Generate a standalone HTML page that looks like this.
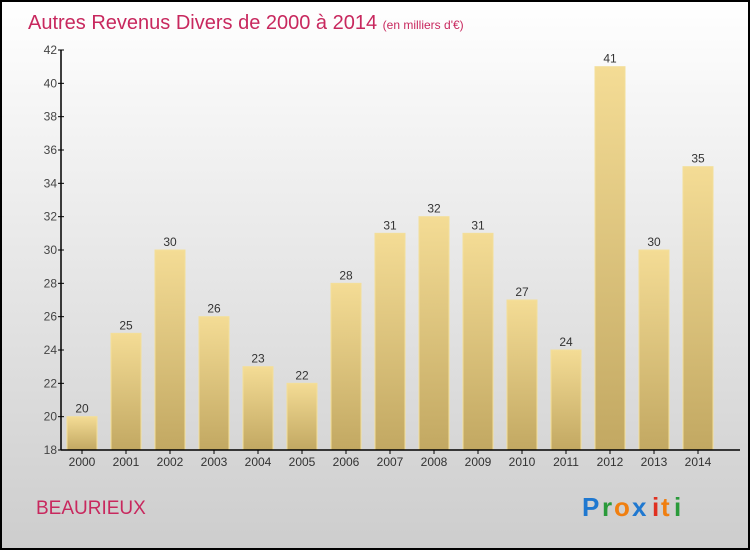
<!DOCTYPE html>
<html><head><meta charset="utf-8"><style>
html,body{margin:0;padding:0}
body{width:750px;height:550px;overflow:hidden}
svg{display:block}
text{font-family:"Liberation Sans",sans-serif}
</style></head><body>
<svg id="chart" width="750" height="550" xmlns="http://www.w3.org/2000/svg">
<defs>
<linearGradient id="bg" x1="0" y1="0" x2="0" y2="1"><stop offset="0" stop-color="#ffffff"/><stop offset="1" stop-color="#cdcdcd"/></linearGradient>
<linearGradient id="bar" x1="0" y1="0" x2="0" y2="1"><stop offset="0" stop-color="#f4dc95"/><stop offset="1" stop-color="#c2a862"/></linearGradient>
</defs>
<rect x="1" y="1" width="748" height="548" fill="url(#bg)" stroke="#000" stroke-width="2"/>
<text x="28" y="29" font-size="20" fill="#c8285e">Autres Revenus Divers de 2000 à 2014 <tspan font-size="12">(en milliers d'€)</tspan></text>
<g id="yaxis"></g>
<g id="bars"></g>
<g id="xaxis"></g>
<text x="36" y="514" font-size="19" fill="#c8285e">BEAURIEUX</text>
<g font-size="26" font-weight="bold">
<text x="582" y="516" fill="#1f78d0">P</text><text x="602" y="516" fill="#2a9a3a">r</text><text x="614" y="516" fill="#f07f10">o</text><text x="632" y="516" fill="#1f78d0">x</text><text x="652" y="516" fill="#e03020">i</text><text x="661" y="516" fill="#f07f10">t</text><text x="674" y="516" fill="#2a9a3a">i</text>
</g>
</svg>
<script>
const categories=["2000","2001","2002","2003","2004","2005","2006","2007","2008","2009","2010","2011","2012","2013","2014"];
const values=[20,25,30,26,23,22,28,31,32,31,27,24,41,30,35];
const yTicks=[18,20,22,24,26,28,30,32,34,36,38,40,42];
const NS="http://www.w3.org/2000/svg";
const y0=450,y1=50,vmin=18,vmax=42,xStart=82,step=44,bw=30,axX=61;
const yS=v=>y0-(v-vmin)/(vmax-vmin)*(y0-y1);
const xS=i=>xStart+i*step;
function mk(t,a,p){const e=document.createElementNS(NS,t);for(const k in a)e.setAttribute(k,a[k]);p.appendChild(e);return e;}
const ya=document.getElementById('yaxis'),bg=document.getElementById('bars'),xa=document.getElementById('xaxis');
mk('line',{x1:axX,y1:y1,x2:axX,y2:y0,stroke:'#000','stroke-width':1.5},ya);
yTicks.forEach(v=>{
  mk('line',{x1:axX-3,y1:yS(v),x2:axX+3,y2:yS(v),stroke:'#000'},ya);
  const t=mk('text',{x:axX-4,y:yS(v)+4,'font-size':12,fill:'#444','text-anchor':'end'},ya);
  t.textContent=v;
  
  
});
mk('line',{x1:axX,y1:y0,x2:740,y2:y0,stroke:'#000','stroke-width':1.5},xa);
categories.forEach((c,i)=>{
  const x=xS(i),v=values[i];
  const r=mk('rect',{x:x-bw/2,y:yS(v),width:bw,height:y0-yS(v),fill:'url(#bar)',stroke:'#f3df9a','stroke-width':1},bg);
  
  
  const l=mk('text',{x:x,y:yS(v)-4,'font-size':12,fill:'#333','text-anchor':'middle'},bg);
  l.textContent=v;
  
  
  mk('line',{x1:x,y1:y0,x2:x,y2:y0+4,stroke:'#000'},xa);
  const t=mk('text',{x:x,y:y0+16,'font-size':12,fill:'#333','text-anchor':'middle'},xa);
  t.textContent=c;
  
  
});
</script>
</body></html>
